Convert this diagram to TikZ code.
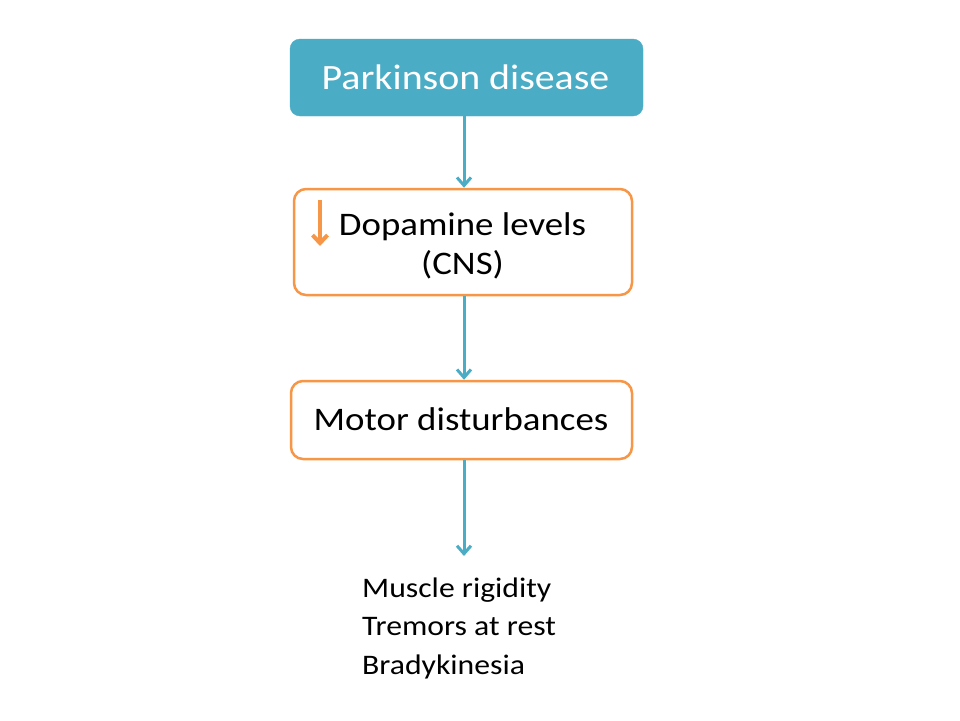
\documentclass[tikz,border=0pt]{standalone}
\usepackage{graphicx}
\usepackage{fontspec}
\setmainfont{Carlito}
\usetikzlibrary{arrows.meta}
\definecolor{aqua}{HTML}{4BACC6}
\definecolor{orng}{HTML}{F79646}
\newcommand\sxx[1]{\scalebox{1.12}[1]{#1}}
\begin{document}
\begin{tikzpicture}[x=1pt,y=-1pt,
  topbox/.style={fill=aqua,draw=aqua,rounded corners=10pt,inner sep=0pt},
  obox/.style={fill=white,draw=orng,line width=2.5pt,rounded corners=12pt,inner sep=0pt},
  conn/.style={draw=aqua,line width=3pt,-{Straight Barb[length=8pt,width=14pt]}},
  txt/.style={inner sep=0pt,anchor=base}]
\useasboundingbox (0,0) rectangle (960,720);
\node[topbox,minimum width=353pt,minimum height=77pt] (pd) at (466.5,77.5) {};
\node[txt,text=white,font=\fontsize{35.6}{40}\selectfont] (pdt) at (465.5,89) {\sxx{Parkinson disease}};
\node[obox,minimum width=338pt,minimum height=106pt] (dl) at (463,242) {};
\node[txt,font=\fontsize{32.9}{39}\selectfont] (dlt) at (462.5,235) {\sxx{\begin{tabular}[t]{@{}c@{}}Dopamine levels\\(CNS)\end{tabular}}};
\node[obox,minimum width=341pt,minimum height=78pt] (md) at (461.5,420) {};
\node[txt,font=\fontsize{32.9}{39}\selectfont] (mdt) at (461,430) {\sxx{Motor disturbances}};
\coordinate (da) at (320,200);
\coordinate (db) at (320,246);
\draw[draw=orng,line width=4pt,-{Straight Barb[length=8pt,width=15pt]}] (da) -- (db);
\coordinate (e3) at (464,556);
\node[txt,anchor=base west,font=\fontsize{28.3}{38.5}\selectfont] (lst) at (362,597) {\sxx{\begin{tabular}[t]{@{}l@{}}Muscle rigidity\\Tremors at rest\\Bradykinesia\end{tabular}}};
\draw[conn] (pd.south -| 464,0) -- (dl.north -| 464,0);
\draw[conn] (dl.south -| 464,0) -- (md.north -| 464,0);
\draw[conn] (md.south -| 464,0) -- (e3);
\end{tikzpicture}
\end{document}
